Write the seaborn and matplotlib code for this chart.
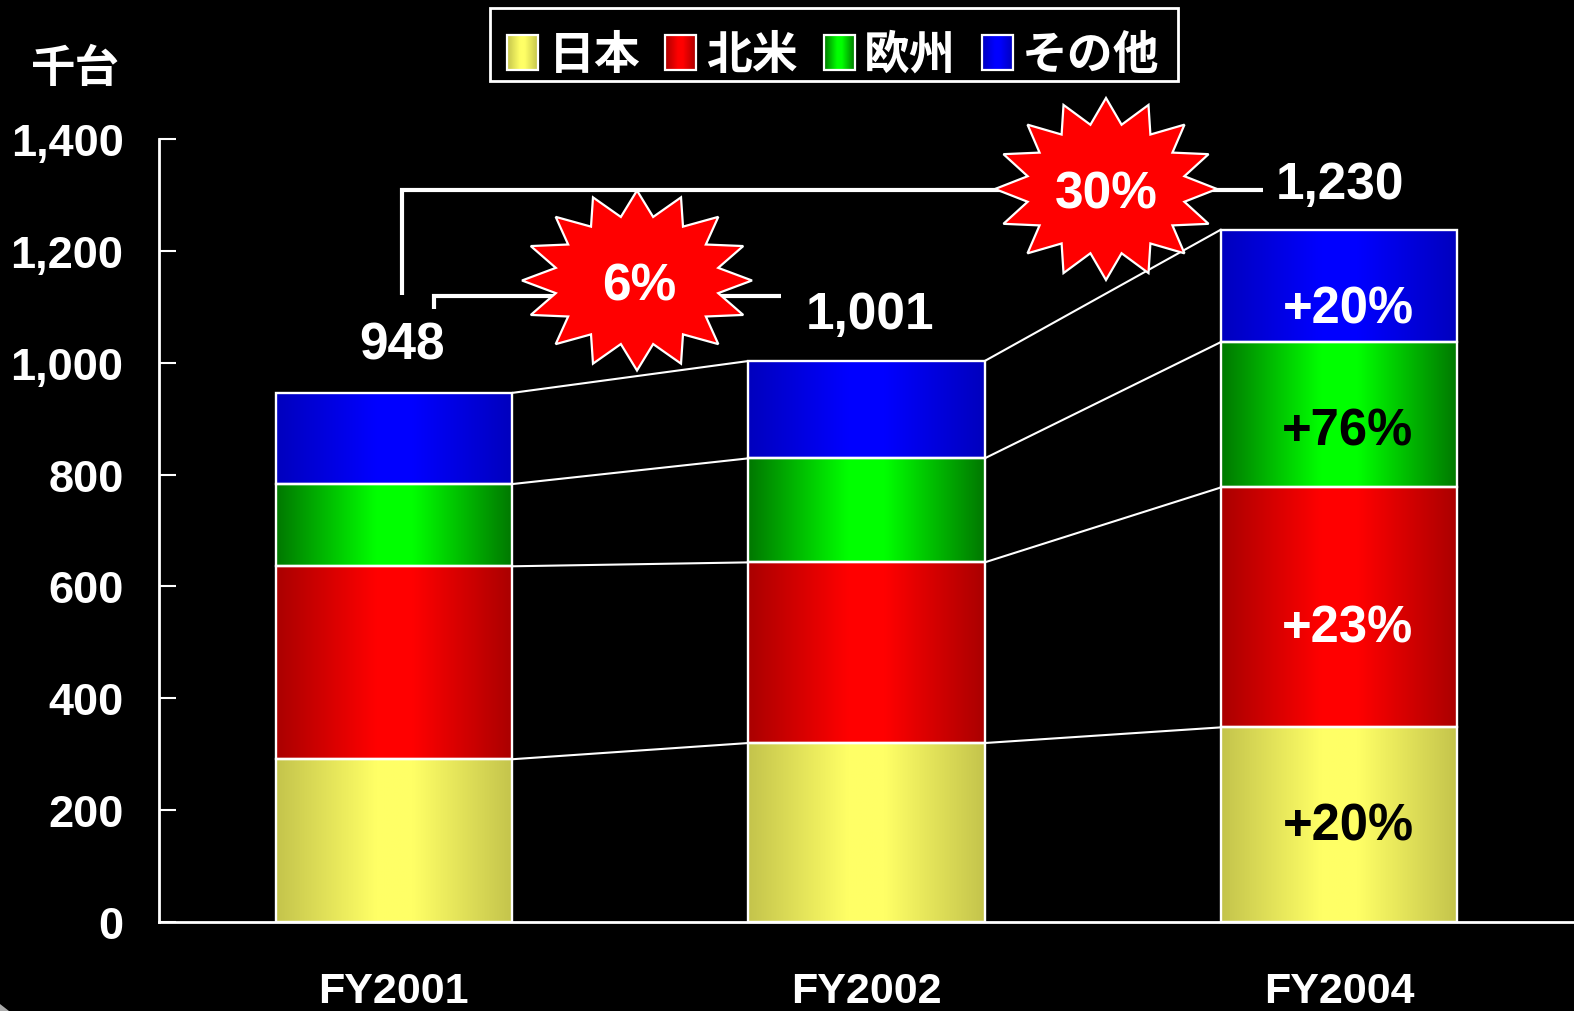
"""Unit sales by region, stacked bars with gradient fill on black."""

import numpy as np
import pandas as pd
import matplotlib
matplotlib.use('Agg')
import matplotlib.pyplot as plt
from matplotlib.colors import LinearSegmentedColormap
from matplotlib.patches import Polygon, Rectangle
import seaborn as sns

W, H = 1574, 1012

years = ["FY2001", "FY2002", "FY2004"]
regions = ["日本", "北米", "欧州", "その他"]
japan = [291, 320, 348]
north_america = [345, 323, 429]
europe = [147, 186, 260]
other = [163, 174, 201]
totals = ["948", "1,001", "1,230"]
growth = ["+20%", "+23%", "+76%", "+20%"]
growth_colors = ["black", "white", "black", "white"]
y_ticks = [0, 200, 400, 600, 800, 1000, 1200, 1400]

edge_colors = ["#C4C44C", "#AA0000", "#007800", "#0000BE"]
mid_colors = ["#FFFF66", "#FF0000", "#00FF00", "#0000FF"]

sns.set_theme(style="dark")
plt.rcParams["font.family"] = ["Liberation Sans", "Noto Sans CJK JP"]
plt.rcParams["font.weight"] = "bold"

df = pd.DataFrame({"year": years, "日本": japan, "北米": north_america,
                   "欧州": europe, "その他": other})


def gradient_cmap(i):
    return LinearSegmentedColormap.from_list(
        f"grad{i}", [(0, edge_colors[i]), (0.42, mid_colors[i]),
                     (0.58, mid_colors[i]), (1, edge_colors[i])])


def draw_gradient(ax, i, x0, x1, y0, y1, zorder):
    grad = np.linspace(0, 1, 128).reshape(1, -1)
    ax.imshow(grad, cmap=gradient_cmap(i), extent=(x0, x1, y0, y1),
              aspect="auto", interpolation="bilinear", zorder=zorder)


def star(ax, cx, cy, rx, ry, n=16, inner=0.72):
    """Red burst, n tips starting from the top."""
    ang = np.arange(2 * n) * np.pi / n
    rad = np.where(np.arange(2 * n) % 2 == 0, 1.0, inner)
    pts = np.column_stack([cx + rx * rad * np.sin(ang), cy - ry * rad * np.cos(ang)])
    ax.add_patch(Polygon(pts, closed=True, facecolor="#FF0000", edgecolor="white",
                         linewidth=1.6, joinstyle="miter", zorder=5))


fig = plt.figure(figsize=(W / 100, H / 100), dpi=100, facecolor="black")
ax = fig.add_axes([159 / W, 1 - 923 / H, (W - 159) / W, (923 - 140) / H])
ax.set_facecolor("black")

# stacked bars
bottom = np.zeros(len(years))
tops = []
for i, region in enumerate(regions):
    before = len(ax.patches)
    sns.barplot(data=df, x="year", y=region, bottom=bottom, width=0.5, color=mid_colors[i],
                saturation=1, edgecolor="white", linewidth=1.7, ax=ax, zorder=3)
    for p in ax.patches[before:]:
        draw_gradient(ax, i, p.get_x(), p.get_x() + p.get_width(),
                      p.get_y(), p.get_y() + p.get_height(), 2)
        p.set_facecolor("none")
    bottom = bottom + df[region].to_numpy()
    tops.append(bottom.copy())

# connectors between the segment tops
for top in tops:
    for j in range(len(years) - 1):
        ax.plot([j + 0.25, j + 0.75], [top[j], top[j + 1]], color="white", linewidth=1.5, zorder=1)

ax.set_xlim(-0.497, 2.497)
ax.set_ylim(0, 1400)
ax.set_yticks(y_ticks)
ax.set_yticklabels([f"{v:,}" for v in y_ticks])
ax.set_xlabel("")
ax.set_ylabel("")
ax.grid(False)
ax.tick_params(axis="y", direction="in", length=12, width=1.5, color="white", labelcolor="white",
               labelsize=32.5, pad=25.5, left=True)
ax.tick_params(axis="x", length=0, labelcolor="white", labelsize=31, pad=35.5)
for side in ["top", "right"]:
    ax.spines[side].set_visible(False)
for side in ["left", "bottom"]:
    ax.spines[side].set_color("white")
    ax.spines[side].set_linewidth(2.0)
    ax.spines[side].set_zorder(4)

# overlay in pixel coordinates for the callouts and the legend
ov = fig.add_axes([0, 0, 1, 1], facecolor="none")
ov.set_axis_off()

white = {"color": "white", "linewidth": 3.0, "solid_capstyle": "butt", "solid_joinstyle": "miter"}
ov.plot([402, 402, 1263], [296, 191, 191], zorder=4, **white)
ov.plot([434, 434, 781], [310, 297, 297], zorder=4, **white)
star(ov, 637, 281.5, 115, 90)
star(ov, 1106, 190, 111, 91)

ov.text(639, 287, "6%", color="white", fontsize=37, ha="center", va="center", zorder=6)
ov.text(1106.5, 195, "30%", color="white", fontsize=37, ha="center", va="center", zorder=6)

for x, y, label in zip([402, 870, 1340], [346, 315, 185], totals):
    ov.text(x, y, label, color="white", fontsize=37, ha="center", va="center", zorder=6)

for y, label, c in zip([827, 629, 432, 310], growth, growth_colors):
    ov.text(1348, y, label, color=c, fontsize=36.5, ha="center", va="center", zorder=6)

ov.text(31, 69, "千台", color="white", fontsize=32, ha="left", va="center",
        family=["Noto Sans CJK JP", "DejaVu Sans"])

# legend
ov.add_patch(Rectangle((490, 8.5), 688, 73, facecolor="black", edgecolor="white", linewidth=2.0, zorder=3))
swatch_x = [507, 665, 824, 982]
text_x = [549, 706, 864, 1022]
for i, region in enumerate(regions):
    x0 = swatch_x[i]
    x1 = x0 + 31
    draw_gradient(ov, i, x0, x1, 71, 36, 4)
    ov.add_patch(Rectangle((x0, 36), 31, 35, facecolor="none", edgecolor="white", linewidth=1.6, zorder=5))
    ov.text(text_x[i], 56, region, color="white", fontsize=33, ha="left", va="center", zorder=5,
            family=["Noto Sans CJK JP", "DejaVu Sans"])

# small grey scrap in the corner of the original slide
ov.add_patch(Polygon([(0, 1005), (0, H), (9, H)], closed=True, facecolor="#AAAAAA", edgecolor="none"))

ov.set_xlim(0, W)
ov.set_ylim(H, 0)

plt.savefig("out.png", dpi=100, facecolor="black")
plt.close()
